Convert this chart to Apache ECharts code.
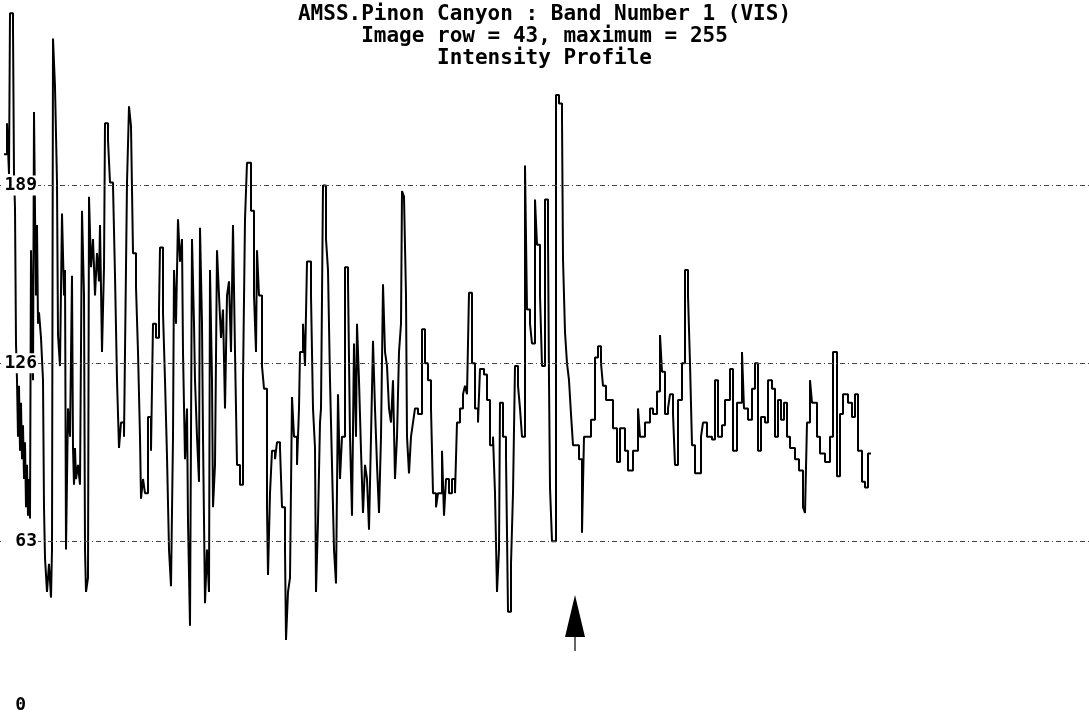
<!DOCTYPE html>
<html><head><meta charset="utf-8">
<script src="https://cdn.jsdelivr.net/npm/echarts@6/dist/echarts.min.js"></script>
<style>html,body{margin:0;padding:0;background:#fff}#c{width:1089px;height:718px}</style>
</head><body><div id="c"></div>
<script>
const titleLines = ['AMSS.Pinon Canyon : Band Number 1 (VIS)', 'Image row = 43, maximum = 255', 'Intensity Profile'];
const yTicks = [0, 63, 126, 189];
const yMax = 252;
// profile sample positions (scan column) and intensities
const sampleCols = [4,7,9,10,13,14,15,16,17,18,19,20,21,22,23,24,25,26,27,28,29,30,31,33,34,35,36,37,38,39,41,43,44,45,47,49,51,52,53,55,57,58,60,62,64,65,66,68,70,72,73,74,75,76,78,80,82,84,85,86,88,89,91,93,95,97,99,100,102,104,105,108,110,113,115,117,119,121,124,126,127,129,131,133,136,138,140,141,143,145,148,151,153,156,159,160,163,165,167,169,171,173,174,176,178,180,182,183,185,187,188,190,192,194,195,197,199,200,202,203,205,207,209,210,212,213,215,217,219,221,223,225,227,229,
231,233,235,237,240,243,245,247,251,254,256,257,259,262,264,267,268,270,272,275,277,280,282,285,286,288,290,292,294,297,299,300,303,305,307,311,313,315,316,318,320,321,323,326,328,330,332,334,336,338,340,342,345,348,350,352,354,356,357,359,361,363,365,367,369,371,373,375,377,379,381,383,385,387,389,391,393,395,397,399,401,402,404,406,407,409,411,413,415,418,422,425,428,431,433,436,438,442,444,446,449,452,455,457,460,463,465,467,469,472,475,478,
480,484,487,490,493,495,497,499,500,503,506,508,511,513,515,518,520,522,525,527,530,532,535,537,540,542,545,548,549,550,552,556,559,562,563,565,567,569,571,573,579,582,584,591,595,598,601,603,606,613,617,620,625,628,633,638,640,645,650,653,657,660,662,665,668,670,673,675,678,682,685,688,690,692,695,701,703,707,712,715,718,722,725,730,733,737,742,744,748,752,755,758,761,765,768,772,775,778,781,784,787,790,795,799,803,805,807,810,812,817,820,825,830,833,837,840,843,848,852,855,858,862,865,868,871];
const intensity = [200,211,193,250,245,193,181,133,120,100,118,95,112,92,104,85,98,75,90,72,85,71,166,120,215,180,150,175,140,144,135,120,75,57,45,55,43,60,241,224,190,136,125,179,150,159,60,110,100,157,96,83,96,85,90,83,180,150,60,45,50,185,160,170,150,165,155,175,130,160,211,205,190,189,157,120,96,105,100,160,190,217,210,165,153,130,100,78,85,80,107,95,140,135,145,167,144,120,93,60,47,100,159,140,177,162,170,130,92,110,70,33,170,140,120,100,84,174,140,100,41,60,45,159,120,75,90,166,150,135,145,110,150,155,
130,175,130,90,83,120,177,197,180,150,130,166,150,125,117,75,51,80,95,92,98,96,75,60,28,45,50,114,100,90,110,130,140,125,162,150,110,96,45,70,105,110,189,170,159,120,90,60,48,115,85,100,160,155,100,72,133,100,140,120,95,73,90,85,67,100,134,110,90,73,100,154,130,125,110,105,120,85,100,130,140,187,185,150,100,87,100,105,110,108,138,126,120,110,80,75,80,95,72,85,80,85,80,105,110,115,118,115,151,126,110,105,
124,122,113,97,100,80,45,60,112,100,93,38,55,80,125,118,110,100,196,145,140,133,184,168,150,125,184,170,120,82,63,221,218,213,163,137,126,120,108,97,92,66,100,106,128,132,126,118,113,103,91,103,95,88,95,110,100,105,110,108,116,136,123,108,110,115,108,90,113,126,159,150,126,97,87,100,105,100,99,120,100,104,113,124,95,112,130,110,106,117,126,95,107,105,120,117,100,113,106,112,100,96,92,88,75,73,105,120,112,100,94,91,100,130,86,108,115,112,107,115,95,84,82,94,94];
const arrowCol = 575;
const arrowVal = 34;

const chart = echarts.init(document.getElementById('c'));
const mono = 'DejaVu Sans Mono';
chart.setOption({
  animation: false,
  backgroundColor: '#fff',
  title: {
    text: titleLines.join('\n'), left: 'center', top: -1,
    textStyle: {fontFamily: mono, fontWeight: 'bold', fontSize: 21, lineHeight: 22, color: '#000'}
  },
  grid: {left: 0, right: 0, top: 7.5, bottom: -1, containLabel: false, outerBoundsMode: 'none'},
  xAxis: {type: 'value', min: 0, max: 1089, show: false},
  yAxis: {
    type: 'value', min: 0, max: yMax, interval: 63, z: 5,
    axisLine: {show: false}, axisTick: {show: false},
    splitLine: {show: true, showMinLine: false, showMaxLine: false,
      lineStyle: {color: '#444', width: 1, type: [5, 3, 1, 3]}},
    axisLabel: {
      inside: true, align: 'right', margin: 38, showMaxLabel: false,
      formatter: v => yTicks.indexOf(v) < 0 ? '' : (v === 0 ? '{z|0}' : '{n|' + v + '}'),
      rich: {
        n: {fontFamily: mono, fontWeight: 'bold', fontSize: 18, color: '#000', backgroundColor: '#fff',
            width: 35, align: 'right', padding: [1, 1, 1, 1]},
        z: {fontFamily: mono, fontWeight: 'bold', fontSize: 18, color: '#000', padding: [0, 12, 28, 0]}
      }
    }
  },
  series: [{
    type: 'line', step: 'end', showSymbol: false, z: 2,
    lineStyle: {color: '#000', width: 2},
    data: sampleCols.map((c, i) => [c, intensity[i]])
  }, {
    type: 'scatter', z: 3,
    symbol: 'path://M10,0 L20,42 L0,42 Z M9.4,42 L10.6,42 L10.6,56 L9.4,56 Z',
    symbolSize: [20, 56], itemStyle: {color: '#000', opacity: 1},
    data: [[arrowCol, arrowVal]]
  }]
});
</script></body></html>
